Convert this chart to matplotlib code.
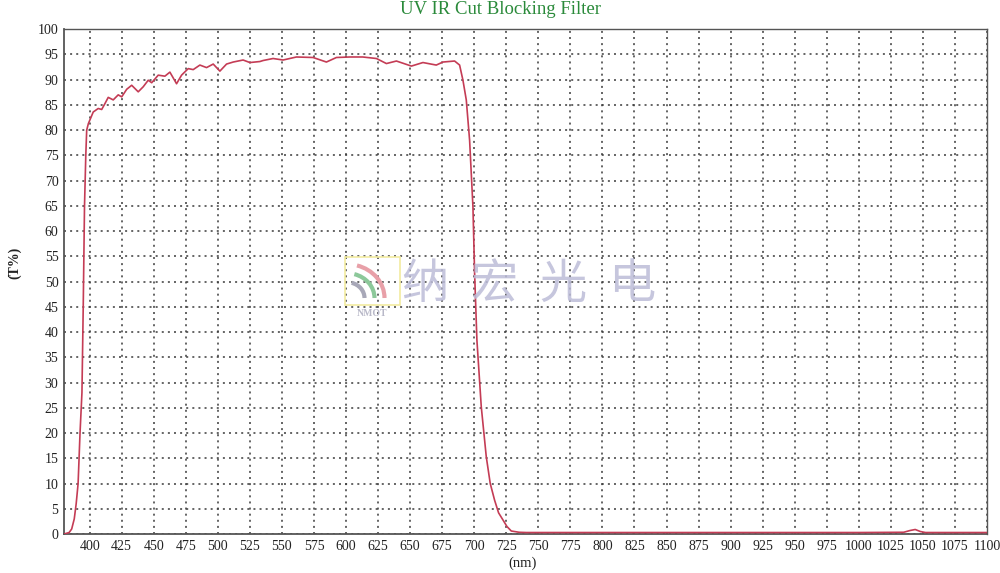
import matplotlib.pyplot as plt
from matplotlib.patches import Rectangle, Arc

plt.rcParams["font.family"] = ["Liberation Serif", "DejaVu Serif"]

# transmission curve
wavelength = [380, 384, 386, 388, 389.5, 391, 392.5, 394, 395, 396, 397, 397.7, 399,
              402.8, 406.7, 409.4, 412, 414.5, 418.4, 422.3, 425, 428.9, 432.8, 437.9,
              441.8, 445.7, 448.4, 453.5, 458.7, 462.6, 467.8, 471.7, 476.9, 480.8, 486,
              491.2, 496.4, 501.6, 506.8, 512, 519.7, 525, 532.8, 535.3, 543.1, 550.9,
              561.3, 574.3, 584.7, 592.5, 602.9, 613, 623.7, 631.5, 639.3, 651, 660,
              670.4, 675.6, 684.7, 688.6, 691.2, 693.8, 696.4, 699, 700.3, 702.1, 705.5,
              709.4, 712.5, 715.9, 719, 722.4, 725.5, 728.9, 735, 740.6, 800, 900, 1000,
              1035, 1040, 1044, 1048, 1052, 1100]
transmission = [0, 0.3, 1, 3, 6, 10, 20, 28, 45, 65, 75, 80, 81.3,
                83.6, 84.3, 84.1, 85.3, 86.5, 86.0, 87.0, 86.6, 88.1, 88.9, 87.6,
                88.6, 89.9, 89.4, 90.9, 90.7, 91.5, 89.2, 90.9, 92.2, 92.0, 92.9,
                92.4, 93.1, 91.7, 93.1, 93.5, 93.9, 93.4, 93.6, 93.8, 94.2, 93.9,
                94.5, 94.4, 93.5, 94.4, 94.5, 94.5, 94.2, 93.2, 93.7, 92.7, 93.4,
                92.9, 93.5, 93.7, 92.9, 89.9, 86, 78, 64.8, 51.7, 38.4, 25.2,
                15.3, 10, 6.7, 4.2, 2.8, 1.5, 0.6, 0.35, 0.3, 0.3, 0.3, 0.3,
                0.35, 0.7, 0.9, 0.5, 0.3, 0.3]

x_ticks = list(range(400, 1101, 25))
y_ticks = list(range(0, 101, 5))
watermark_chars = ["纳", "宏", "光", "电"]

fig = plt.figure(figsize=(10, 5.73), dpi=100)
ax = fig.add_axes([0.064, 0.068, 0.923, 0.881])

ax.plot(wavelength, transmission, color="#c43c55", lw=1.2, zorder=3)

ax.set_xlim(380, 1100)
ax.set_ylim(0, 100)
ax.set_xticks(x_ticks)
ax.set_yticks(y_ticks)
ax.tick_params(length=0, labelsize=10, pad=4, colors="#222222")
ax.grid(True, color="#3a3a3a", linestyle=(0, (1.3, 2.7)), linewidth=1.1)
for s in ax.spines.values():
    s.set_color("#555555")
    s.set_linewidth(1.0)
ax.spines["left"].set_linewidth(1.3)
ax.spines["bottom"].set_linewidth(1.3)

fig.text(0.5, 0.984, "UV IR Cut Blocking Filter", color="#2a8a3a",
         fontsize=13.5, ha="center", va="center")
fig.text(0.015, 1 - 263 / 573, "(T%)", rotation=90, fontsize=10, fontweight="bold",
         ha="center", va="center", color="#222222")
fig.text(0.523, 0.017, "(nm)", fontsize=10.5, ha="center", va="center",
         color="#222222")

# watermark
for i, ch in enumerate(watermark_chars):
    fig.text(0.425 + i * 0.069, 1 - 285 / 573, ch, fontsize=34,
             family=["Noto Sans CJK SC"], color="#bcbcd8", alpha=0.85,
             ha="center", va="center", zorder=5)
fig.patches.append(Rectangle((0.345, 1 - 305 / 573), 0.055, 48 / 573,
                             transform=fig.transFigure, fill=False,
                             edgecolor="#f2eba0", lw=1.2, figure=fig))
for r, c in [(0.075, "#e8a0a8"), (0.055, "#8cc89a"), (0.035, "#a8a8b8")]:
    fig.patches.append(Arc((0.347, 1 - 298 / 573), r, r * 1000 / 573 * 0.9,
                           theta1=0, theta2=80, transform=fig.transFigure,
                           color=c, lw=3, figure=fig))
fig.text(0.372, 1 - 313 / 573, "NMOT", fontsize=7, color="#b8b8c8",
         fontweight="bold", ha="center", va="center")

fig.savefig("out.png", dpi=100)
